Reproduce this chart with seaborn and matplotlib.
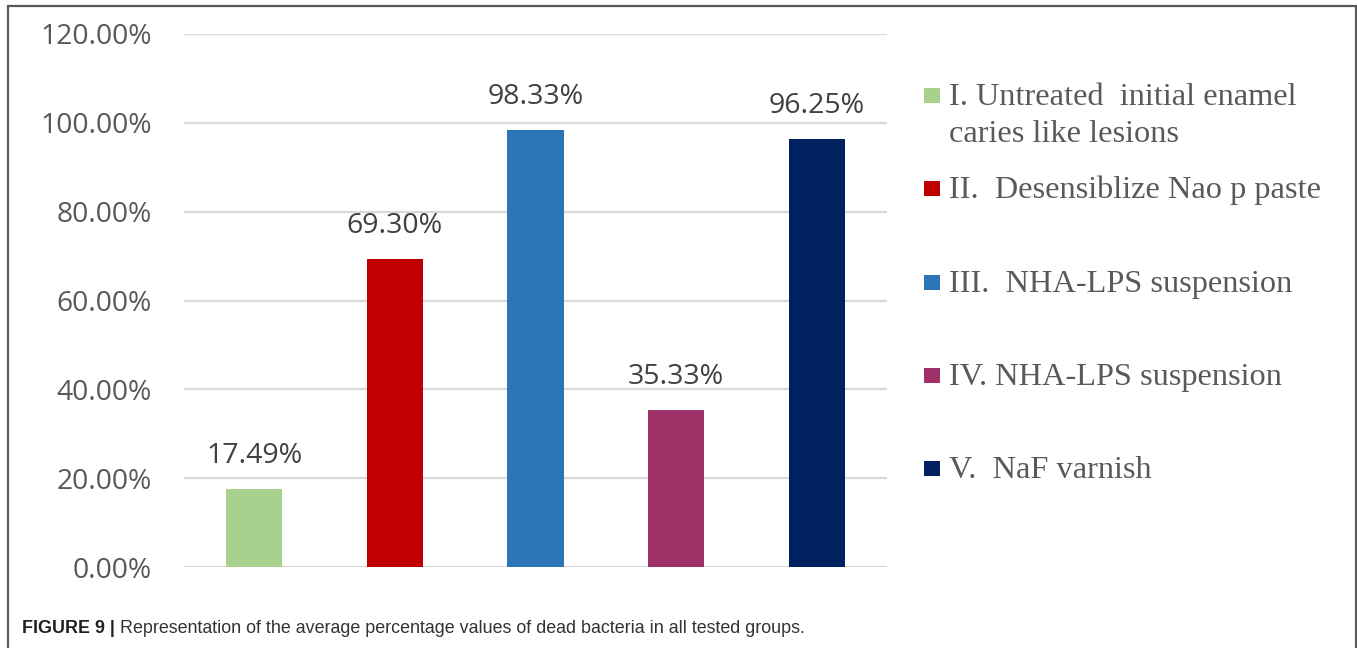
import matplotlib
matplotlib.use("Agg")
import matplotlib.pyplot as plt
from matplotlib.patches import Rectangle
from matplotlib.lines import Line2D
import seaborn as sns

# Average percentage of dead bacteria per tested group
groups = ["I", "II", "III", "IV", "V"]
values = [17.49, 69.30, 98.33, 35.33, 96.25]
legend_labels = [
    "I. Untreated  initial enamel\ncaries like lesions",
    "II.  Desensiblize Nao p paste",
    "III.  NHA-LPS suspension",
    "IV. NHA-LPS suspension",
    "V.  NaF varnish",
]
colors = ["#A9D18E", "#C00000", "#2E75B6", "#9E3268", "#002060"]
y_ticks = [0, 20, 40, 60, 80, 100, 120]
caption_bold = "FIGURE 9 |"
caption_text = " Representation of the average percentage values of dead bacteria in all tested groups."

W, H = 1357, 648
sns.set_style("white")
plt.rcParams["font.family"] = ["Open Sans", "DejaVu Sans"]

fig = plt.figure(figsize=(W / 100, H / 100), dpi=100)


def fx(px):
    return px / W


def fy(py):
    return 1 - py / H


ax = fig.add_axes([fx(184), fy(567), fx(887) - fx(184), fy(34) - fy(567)])
sns.barplot(x=groups, y=values, hue=groups, palette=colors, order=groups,
            hue_order=groups, width=0.4, legend=False, saturation=1,
            linewidth=0, ax=ax)

ax.set_xlim(-0.5, len(groups) - 0.5)
ax.set_ylim(0, 120)
ax.set_yticks(y_ticks)
ax.set_yticklabels([f"{t:.2f}%" for t in y_ticks])
ax.tick_params(axis="y", length=0, pad=23, labelsize=20.3, labelcolor="#595959")
ax.set_xticks([])
ax.set_xlabel("")
ax.set_ylabel("")
ax.yaxis.grid(True, color="#D9D9D9", linewidth=1.6)
ax.set_axisbelow(True)
for s in ax.spines.values():
    s.set_visible(False)

# Value labels above each bar
for i, v in enumerate(values):
    ax.annotate(f"{v:.2f}%", xy=(i, v), xytext=(0, 19), textcoords="offset points",
                ha="center", va="baseline", fontsize=20.5, color="#404040")

# Legend entries on the right
legend_font = ["Liberation Serif", "DejaVu Serif"]
baselines = [105, 198, 292, 385, 478]
for lab, col, base in zip(legend_labels, colors, baselines):
    fig.add_artist(Rectangle((fx(924), fy(base - 2)), fx(16), 15 / H,
                             transform=fig.transFigure, facecolor=col,
                             edgecolor="none"))
    lines = lab.split("\n")
    for k, line in enumerate(lines):
        fig.text(fx(949), fy(base + 37 * k), line, family=legend_font,
                 fontsize=23.3, color="#595959", ha="left", va="baseline")

# Caption
cap_font = ["Liberation Sans", "DejaVu Sans"]
t1 = fig.text(fx(22), fy(633), caption_bold, family=cap_font,
              fontsize=12.9, fontweight="bold", color="#231F20", ha="left", va="baseline")
fig.canvas.draw()
bb = t1.get_window_extent()
fig.text(bb.x1 / W, fy(633), caption_text, family=cap_font,
         fontsize=12.9, color="#333333", ha="left", va="baseline")

# Frame around the figure panel
frame_kw = dict(transform=fig.transFigure, color="#5A5A5A", linewidth=1.6)
fig.add_artist(Line2D([fx(7.5), fx(7.5)], [0, fy(6)], **frame_kw))
fig.add_artist(Line2D([fx(7.5), fx(1355.5)], [fy(6), fy(6)], **frame_kw))
fig.add_artist(Line2D([fx(1355.5), fx(1355.5)], [fy(6), 0], **frame_kw))

fig.savefig("out.png", dpi=100)
